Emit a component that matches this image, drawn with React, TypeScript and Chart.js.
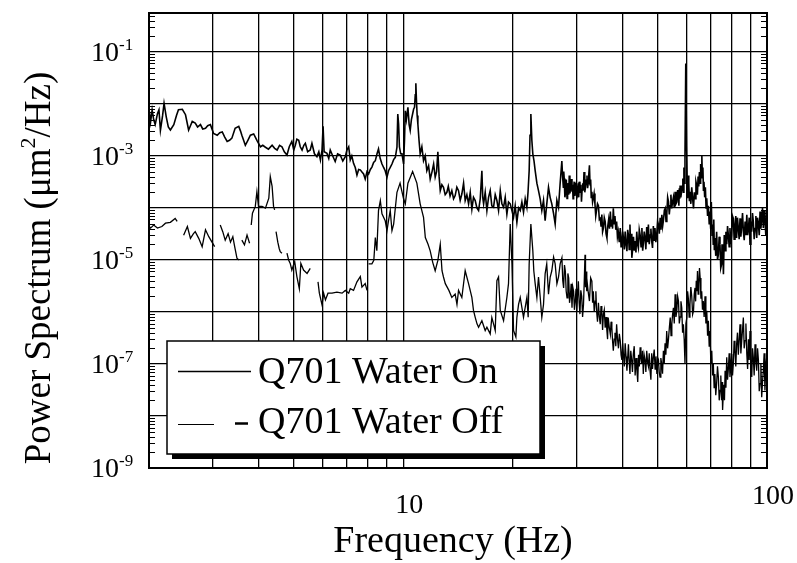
import React, { useEffect, useRef } from "react";
import { Chart, registerables } from "chart.js";

Chart.register(...registerables);

// ---- axis definitions ----
const xGridValues = [2, 3, 4, 5, 6, 7, 8, 9, 10, 20, 30, 40, 50, 60, 70, 80, 90, 100];
const yGridValues = [1e-9, 1e-8, 1e-7, 1e-6, 1e-5, 1e-4, 1e-3, 1e-2, 1e-1];
const yLabelExponents = [-1, -3, -5, -7, -9];
const xLabelValues = [10, 100];
const minorMultipliers = [2, 3, 4, 5, 6, 7, 8, 9];
const xTitle = "Frequency (Hz)";
const yTitleParts = ["Power Spectrum (\u03bcm", "2", "/Hz)"];
const legendLabels = ["Q701 Water On", "Q701 Water Off"];

// ---- Q701 Water On ----
const freqOn = [
  2.00, 2.02, 2.04, 2.06, 2.08, 2.11, 2.13, 2.15, 2.18, 2.20,
  2.23, 2.26, 2.29, 2.34, 2.38, 2.41, 2.47, 2.52, 2.57, 2.60,
  2.63, 2.68, 2.72, 2.77, 2.81, 2.86, 2.90, 2.95, 3.01, 3.08,
  3.13, 3.18, 3.23, 3.28, 3.33, 3.38, 3.45, 3.53, 3.57, 3.60,
  3.64, 3.68, 3.74, 3.80, 3.88, 3.96, 4.05, 4.11, 4.18, 4.26,
  4.36, 4.43, 4.50, 4.57, 4.64, 4.71, 4.79, 4.86, 4.94, 5.00,
  5.05, 5.10, 5.16, 5.21, 5.27, 5.33, 5.38, 5.46, 5.55, 5.61,
  5.70, 5.79, 5.86, 5.92, 5.98, 6.02, 6.06, 6.17, 6.24, 6.30,
  6.40, 6.50, 6.60, 6.71, 6.82, 6.93, 7.00, 7.08, 7.15, 7.22,
  7.30, 7.38, 7.46, 7.54, 7.62, 7.70, 7.78, 7.86, 7.95, 8.03,
  8.12, 8.20, 8.29, 8.38, 8.47, 8.55, 8.64, 8.74, 8.83, 8.92,
  9.02, 9.11, 9.21, 9.31, 9.41, 9.51, 9.61, 9.66, 9.71, 9.76,
  9.84, 9.92, 10.02, 10.08, 10.13, 10.20, 10.30, 10.38, 10.45, 10.53,
  10.61, 10.68, 10.74, 10.79, 10.83, 10.87, 10.92, 10.97, 11.05, 11.13,
  11.25, 11.37, 11.49, 11.61, 11.74, 11.86, 12.00, 12.12, 12.24, 12.35,
  12.45, 12.55, 12.64, 12.77, 12.90, 13.04, 13.18, 13.30, 13.45, 13.60,
  13.75, 13.89, 14.04, 14.19, 14.34, 14.49, 14.65, 14.80, 14.96, 15.12,
  15.28, 15.44, 15.60, 15.77, 15.94, 16.11, 16.28, 16.45, 16.54, 16.63,
  16.80, 16.98, 17.16, 17.34, 17.52, 17.71, 17.90, 18.09, 18.28, 18.48,
  18.67, 18.87, 19.07, 19.27, 19.47, 19.68, 19.89, 20.10, 20.31, 20.53,
  20.75, 20.97, 21.19, 21.41, 21.64, 21.87, 22.03, 22.19, 22.31, 22.43,
  22.57, 22.71, 22.88, 23.05, 23.30, 23.54, 23.79, 24.04, 24.30, 24.55,
  24.81, 25.08, 25.34, 25.61, 25.88, 26.16, 26.44, 26.72, 27.00, 27.29,
  27.42, 27.55, 27.62, 27.70, 27.82, 27.95, 28.07, 28.20, 28.30, 28.40,
  28.50, 28.60, 28.72, 28.85, 28.97, 29.10, 29.20, 29.30, 29.40, 29.50,
  29.62, 29.75, 29.87, 30.00, 30.12, 30.25, 30.37, 30.50, 30.60, 30.70,
  30.80, 30.90, 31.02, 31.15, 31.27, 31.40, 31.55, 31.70, 31.85, 32.00,
  32.12, 32.25, 32.37, 32.50, 32.62, 32.75, 32.87, 33.00, 33.15, 33.30,
  33.47, 33.65, 33.82, 34.00, 34.20, 34.40, 34.60, 34.80, 34.97, 35.15,
  35.32, 35.50, 35.70, 35.90, 36.10, 36.30, 36.50, 36.70, 36.90, 37.10,
  37.27, 37.45, 37.62, 37.80, 38.00, 38.20, 38.40, 38.60, 38.80, 39.00,
  39.25, 39.50, 39.70, 39.90, 40.10, 40.30, 40.52, 40.75, 40.97, 41.20,
  41.40, 41.60, 41.80, 42.00, 42.12, 42.25, 42.37, 42.50, 42.72, 42.95,
  43.17, 43.40, 43.62, 43.85, 44.07, 44.30, 44.55, 44.80, 45.05, 45.30,
  45.52, 45.75, 45.97, 46.20, 46.45, 46.70, 46.95, 47.20, 47.45, 47.70,
  47.95, 48.20, 48.45, 48.70, 48.95, 49.20, 49.47, 49.75, 50.02, 50.30,
  50.57, 50.85, 51.12, 51.40, 51.67, 51.95, 52.22, 52.50, 52.77, 53.05,
  53.32, 53.60, 53.87, 54.15, 54.42, 54.70, 55.00, 55.30, 55.60, 55.90,
  56.20, 56.50, 56.80, 57.10, 57.25, 57.40, 57.55, 57.70, 57.95, 58.20,
  58.45, 58.70, 58.90, 59.10, 59.30, 59.50, 59.80, 60.10, 60.30, 60.50,
  60.72, 60.95, 61.17, 61.40, 61.75, 62.10, 62.45, 62.80, 63.12, 63.45,
  63.77, 64.10, 64.37, 64.65, 64.92, 65.20, 65.45, 65.70, 65.95, 66.20,
  66.42, 66.65, 66.87, 67.10, 67.40, 67.70, 68.00, 68.30, 68.65, 69.00,
  69.35, 69.70, 70.00, 70.30, 70.60, 70.90, 71.15, 71.40, 71.65, 71.90,
  72.30, 72.70, 73.10, 73.50, 73.87, 74.25, 74.62, 75.00, 75.22, 75.45,
  75.67, 75.90, 76.30, 76.70, 77.10, 77.50, 77.90, 78.30, 78.70, 79.10,
  79.52, 79.95, 80.37, 80.80, 81.22, 81.65, 82.07, 82.50, 82.95, 83.40,
  83.85, 84.30, 84.75, 85.20, 85.65, 86.10, 86.57, 87.05, 87.52, 88.00,
  88.45, 88.90, 89.35, 89.80, 90.27, 90.75, 91.22, 91.70, 92.20, 92.70,
  93.20, 93.70, 94.20, 94.70, 95.20, 95.70, 96.20, 96.70, 97.20, 97.70,
  98.20, 98.70, 99.25, 99.80,
];
const psdOn = [
  8.0e-3, 4.5e-3, 7.7e-3, 5.0e-3, 4.0e-3, 6.5e-3, 7.7e-3, 3.1e-3, 6.0e-3, 1.03e-2,
  5.7e-3, 3.6e-3, 3.15e-3, 4.0e-3, 6.0e-3, 7.7e-3, 7.9e-3, 6.2e-3, 3.15e-3, 3.8e-3,
  4.6e-3, 4.3e-3, 3.6e-3, 4.0e-3, 3.3e-3, 3.4e-3, 3.8e-3, 4.0e-3, 2.7e-3, 2.5e-3,
  2.8e-3, 2.9e-3, 2.3e-3, 1.9e-3, 2.0e-3, 2.2e-3, 3.4e-3, 3.7e-3, 3.0e-3, 2.5e-3,
  2.0e-3, 1.6e-3, 2.0e-3, 2.5e-3, 2.65e-3, 2.0e-3, 1.5e-3, 1.6e-3, 1.47e-3, 1.35e-3,
  1.6e-3, 1.4e-3, 1.3e-3, 1.6e-3, 1.5e-3, 1.2e-3, 1.04e-3, 1.5e-3, 1.9e-3, 1.3e-3,
  1.6e-3, 2.1e-3, 2.0e-3, 1.5e-3, 1.3e-3, 1.6e-3, 1.75e-3, 1.2e-3, 1.3e-3, 1.75e-3,
  1.1e-3, 9.7e-4, 1.2e-3, 8.4e-4, 1.3e-3, 3.7e-3, 1.2e-3, 1.12e-3, 9.0e-4, 1.3e-3,
  1.0e-3, 7.8e-4, 1.1e-3, 1.04e-3, 8.0e-4, 9.7e-4, 1.3e-3, 1.5e-3, 8.4e-4, 1.0e-3,
  7.2e-4, 6.0e-4, 4.3e-4, 5.5e-4, 5.4e-4, 4.9e-4, 4.5e-4, 3.6e-4, 5.0e-4, 4.5e-4,
  5.5e-4, 6.1e-4, 7.5e-4, 8.1e-4, 1.1e-3, 1.36e-3, 9.0e-4, 7.0e-4, 6.0e-4, 5.2e-4,
  3.9e-4, 5.2e-4, 6.0e-4, 7.0e-4, 8.5e-4, 9.4e-4, 1.47e-3, 6.4e-3, 4.1e-3, 1.5e-3,
  1.1e-3, 1.1e-3, 7.0e-4, 2.0e-3, 7.4e-3, 5.0e-3, 8.6e-3, 4.0e-3, 3.1e-3, 5.0e-3,
  6.4e-3, 8.0e-3, 8.6e-3, 1.5e-2, 2.5e-2, 1.2e-2, 6.0e-3, 4.1e-3, 2.0e-3, 1.1e-3,
  1.5e-3, 8.1e-4, 1.0e-3, 5.2e-4, 6.5e-4, 3.6e-4, 5.0e-4, 7.0e-4, 3.9e-4, 5.0e-4,
  1.2e-3, 4.0e-4, 2.15e-4, 2.8e-4, 2.5e-4, 1.8e-4, 2.0e-4, 2.6e-4, 1.7e-4, 2.15e-4,
  1.5e-4, 1.73e-4, 2.5e-4, 2.15e-4, 1.4e-4, 1.85e-4, 3.0e-4, 1.39e-4, 1.8e-4, 1.2e-4,
  2.0e-4, 9.5e-5, 1.6e-4, 1.39e-4, 1.0e-4, 8.9e-5, 1.5e-4, 5.2e-4, 1.6e-4, 1.2e-4,
  2.0e-4, 8.9e-5, 1.6e-4, 2.15e-4, 1.1e-4, 1.03e-4, 1.8e-4, 1.39e-4, 9.0e-5, 2.15e-4,
  1.2e-4, 1.03e-4, 1.6e-4, 7.6e-5, 1.3e-4, 1.2e-4, 9.0e-5, 6.6e-5, 1.1e-4, 5.3e-5,
  1.0e-4, 8.9e-5, 1.3e-4, 8.3e-5, 1.5e-4, 1.03e-4, 2.0e-4, 5.2e-4, 2.5e-3, 6.4e-3,
  2.0e-3, 1.1e-3, 8.0e-4, 5.2e-4, 3.0e-4, 2.15e-4, 1.5e-4, 8.9e-5, 1.4e-4, 5.7e-5,
  1.2e-4, 2.5e-4, 1.6e-4, 1.2e-4, 8.0e-5, 4.9e-5, 1.4e-4, 1.03e-4, 3.0e-4, 8.0e-4,
  4.0e-4, 2.5e-4, 5.0e-4, 3.7e-4, 1.6e-4, 2.0e-4, 3.5e-4, 1.53e-4, 2.4e-4, 3.0e-4,
  1.8e-4, 4.2e-4, 1.9e-4, 2.5e-4, 3.6e-4, 2.05e-4, 2.8e-4, 1.5e-4, 2.2e-4, 3.2e-4,
  1.7e-4, 2.2e-4, 3.0e-4, 1.53e-4, 2.0e-4, 2.4e-4, 1.6e-4, 3.2e-4, 2.6e-4, 2.0e-4,
  2.8e-4, 1.32e-4, 2.2e-4, 3.0e-4, 2.2e-4, 4.9e-4, 2.0e-4, 2.5e-4, 3.4e-4, 4.2e-4,
  2.4e-4, 3.0e-4, 4.5e-4, 6.6e-4, 2.8e-4, 3.5e-4, 1.6e-4, 2.05e-4, 1.3e-4, 1.53e-4,
  1.9e-4, 1.2e-4, 7.0e-5, 9.1e-5, 1.2e-4, 1.1e-4, 6.0e-5, 6.3e-5, 4.5e-5, 7.5e-5,
  3.5e-5, 4.1e-5, 6.5e-5, 5.5e-5, 3.2e-5, 2.65e-5, 4.5e-5, 6.0e-5, 4.0e-5, 8.5e-5,
  4.5e-5, 6.0e-5, 4.0e-5, 9.8e-5, 5.0e-5, 7.0e-5, 3.8e-5, 5.5e-5, 2.8e-5, 3.5e-5,
  2.2e-5, 4.1e-5, 1.8e-5, 2.2e-5, 3.5e-5, 2.65e-5, 1.6e-5, 3.5e-5, 2.0e-5, 1.47e-5,
  3.8e-5, 3.0e-5, 1.6e-5, 4.8e-5, 2.5e-5, 2.0e-5, 3.2e-5, 1.1e-5, 1.6e-5, 2.8e-5,
  1.5e-5, 2.3e-5, 1.4e-5, 3.5e-5, 2.0e-5, 1.7e-5, 3.8e-5, 3.0e-5, 1.8e-5, 4.1e-5,
  1.5e-5, 2.2e-5, 3.5e-5, 2.65e-5, 1.6e-5, 4.3e-5, 2.2e-5, 4.8e-5, 2.0e-5, 3.0e-5,
  4.0e-5, 2.3e-5, 1.7e-5, 4.5e-5, 2.4e-5, 4.1e-5, 2.2e-5, 3.0e-5, 5.5e-5, 4.8e-5,
  3.2e-5, 6.5e-5, 3.8e-5, 7.4e-5, 4.5e-5, 6.0e-5, 9.0e-5, 9.8e-5, 5.5e-5, 8.0e-5,
  1.6e-4, 1.32e-4, 7.5e-5, 1.1e-4, 1.8e-4, 9.8e-5, 1.3e-4, 1.6e-4, 1.0e-4, 2.05e-4,
  1.2e-4, 1.3e-4, 2.2e-4, 1.53e-4, 1.1e-4, 2.4e-4, 1.5e-4, 2.7e-4, 1.6e-4, 2.0e-4,
  2.6e-4, 3.7e-4, 2.0e-4, 6.0e-4, 3.0e-4, 1.03e-3, 6.0e-2, 1.5e-3, 4.0e-4, 1.53e-4,
  4.2e-4, 3.0e-4, 1.4e-4, 2.05e-4, 1.2e-4, 2.5e-4, 1.5e-4, 9.8e-5, 2.0e-4, 1.5e-4,
  3.2e-4, 2.7e-4, 1.8e-4, 4.0e-4, 2.6e-4, 4.9e-4, 3.0e-4, 7.0e-4, 3.8e-4, 1.03e-3,
  4.0e-4, 6.0e-4, 2.2e-4, 3.2e-4, 1.6e-4, 2.5e-4, 1.0e-4, 1.53e-4, 7.0e-5, 1.1e-4,
  5.0e-5, 8.5e-5, 4.0e-5, 1.3e-4, 3.0e-5, 4.8e-5, 2.0e-5, 6.0e-5, 1.6e-5, 2.65e-5,
  1.2e-5, 3.5e-5, 1.0e-5, 1.27e-5, 2.8e-5, 2.0e-5, 7.0e-6, 8.2e-6, 2.0e-5, 1.0e-5,
  1.8e-5, 5.3e-6, 3.0e-5, 1.5e-5, 3.5e-5, 2.0e-5, 4.5e-5, 3.0e-5, 1.8e-5, 4.1e-5,
  2.0e-5, 3.0e-5, 7.0e-5, 6.3e-5, 2.5e-5, 4.5e-5, 7.0e-5, 2.65e-5, 6.5e-5, 4.0e-5,
  2.5e-5, 6.3e-5, 2.8e-5, 4.5e-5, 8.0e-5, 3.55e-5, 2.4e-5, 5.5e-5, 3.0e-5, 7.4e-5,
  3.0e-5, 4.0e-5, 6.5e-5, 2.0e-5, 5.5e-5, 3.5e-5, 8.0e-5, 5.5e-5, 2.5e-5, 4.0e-5,
  7.0e-5, 2.65e-5, 6.5e-5, 5.0e-5, 3.0e-5, 8.5e-5, 4.0e-5, 6.0e-5, 1.0e-4, 4.1e-5,
  9.0e-5, 6.0e-5, 3.0e-5, 7.4e-5,
];

// ---- Q701 Water Off (null = break in the dashed trace) ----
const freqOff = [
  2.00, 2.02, 2.06, 2.11, 2.17, 2.22, 2.29, 2.36, 2.39, 2.44,
  2.49, 2.55, 2.60, 2.65, 2.68, 2.74, 2.80, 2.86, 2.92, 2.98,
  3.03, 3.08, 3.14, 3.19, 3.24, 3.30, 3.35, 3.40, 3.44, 3.49,
  3.53, 3.56, 3.60, 3.66, 3.72, 3.78, 3.80, 3.82, 3.85, 3.92,
  3.96, 4.00, 4.09, 4.18, 4.27, 4.31, 4.36, 4.40, 4.43, 4.45,
  4.47, 4.52, 4.56, 4.59, 4.64, 4.72, 4.79, 4.84, 4.89, 4.94,
  5.03, 5.10, 5.18, 5.23, 5.32, 5.44, 5.55, 5.70, 5.83, 5.88,
  5.98, 6.04, 6.11, 6.21, 6.37, 6.57, 6.79, 6.93, 7.08, 7.15,
  7.30, 7.46, 7.62, 7.70, 7.86, 7.95, 8.00, 8.03, 8.20, 8.30,
  8.38, 8.46, 8.55, 8.65, 8.74, 8.92, 9.02, 9.11, 9.21, 9.31,
  9.41, 9.61, 9.80, 10.02, 10.13, 10.30, 10.61, 10.90, 11.13, 11.37,
  11.50, 11.70, 11.86, 12.05, 12.24, 12.45, 12.64, 12.78, 12.90, 13.05,
  13.35, 13.60, 13.89, 14.05, 14.19, 14.49, 14.80, 15.12, 15.44, 15.60,
  15.77, 15.95, 16.11, 16.45, 16.80, 16.98, 17.34, 17.52, 17.71, 17.90,
  18.09, 18.28, 18.48, 18.87, 19.27, 19.47, 19.68, 19.90, 20.10, 20.40,
  20.53, 20.75, 20.97, 21.41, 21.87, 22.05, 22.19, 22.43, 22.71, 22.85,
  23.05, 23.30, 23.54, 23.80, 24.04, 24.30, 24.55, 24.80, 25.08, 25.35,
  25.61, 25.90, 26.16, 26.45, 26.72, 27.00, 27.30, 27.45, 27.60, 27.75,
  27.90, 28.05, 28.20, 28.35, 28.50, 28.65, 28.80, 28.95, 29.10, 29.25,
  29.40, 29.55, 29.70, 29.85, 30.00, 30.15, 30.30, 30.45, 30.60, 30.77,
  30.95, 31.12, 31.30, 31.45, 31.60, 31.70, 31.80, 31.90, 32.00, 32.25,
  32.50, 32.75, 33.00, 33.15, 33.30, 33.50, 33.70, 33.85, 34.00, 34.20,
  34.40, 34.60, 34.80, 34.97, 35.15, 35.32, 35.50, 35.70, 35.90, 36.10,
  36.30, 36.45, 36.60, 36.85, 37.10, 37.27, 37.45, 37.62, 37.80, 38.00,
  38.20, 38.40, 38.60, 38.82, 39.05, 39.27, 39.50, 39.70, 39.90, 40.10,
  40.30, 40.52, 40.75, 40.97, 41.20, 41.40, 41.60, 41.80, 42.00, 42.22,
  42.45, 42.67, 42.90, 43.15, 43.40, 43.65, 43.90, 44.12, 44.35, 44.57,
  44.80, 45.02, 45.25, 45.47, 45.70, 45.95, 46.20, 46.45, 46.70, 46.95,
  47.20, 47.45, 47.70, 47.95, 48.20, 48.45, 48.70, 48.97, 49.25, 49.52,
  49.80, 50.05, 50.30, 50.55, 50.80, 51.07, 51.35, 51.62, 51.90, 52.17,
  52.45, 52.72, 53.00, 53.30, 53.60, 53.90, 54.20, 54.47, 54.75, 55.02,
  55.30, 55.60, 55.90, 56.20, 56.50, 56.80, 57.10, 57.40, 57.70, 58.00,
  58.30, 58.60, 58.90, 59.20, 59.50, 59.85, 60.20, 60.50, 60.80, 61.10,
  61.40, 61.75, 62.10, 62.45, 62.80, 63.10, 63.40, 63.65, 63.90, 64.15,
  64.40, 64.67, 64.95, 65.22, 65.50, 65.82, 66.15, 66.47, 66.80, 67.17,
  67.55, 67.92, 68.30, 68.65, 69.00, 69.35, 69.70, 70.10, 70.50, 70.85,
  71.20, 71.55, 71.90, 72.30, 72.70, 73.10, 73.50, 73.90, 74.30, 74.65,
  75.00, 75.25, 75.50, 75.80, 76.10, 76.40, 76.70, 77.10, 77.50, 77.90,
  78.30, 78.70, 79.10, 79.55, 80.00, 80.40, 80.80, 81.22, 81.65, 82.07,
  82.50, 82.95, 83.40, 83.85, 84.30, 84.75, 85.20, 85.65, 86.10, 86.55,
  87.00, 87.50, 88.00, 88.45, 88.90, 89.35, 89.80, 90.30, 90.80, 91.25,
  91.70, 92.20, 92.70, 93.20, 93.70, 94.20, 94.70, 95.20, 95.70, 96.20,
  96.70, 97.20, 97.70, 98.20, 98.70, 99.25, 99.80,
];
const psdOff = [
  4.5e-5, 4.1e-5, 4.7e-5, 4.1e-5, 4.4e-5, 5.1e-5, 5.3e-5, 6.3e-5, 5.5e-5, null,
  3.0e-5, 4.4e-5, 2.6e-5, 3.2e-5, 3.5e-5, 2.6e-5, 1.8e-5, 3.8e-5, 2.8e-5, 2.2e-5,
  1.8e-5, null, 4.7e-5, 3.5e-5, 2.4e-5, 3.2e-5, 2.2e-5, 2.8e-5, 1.8e-5, 1.08e-5,
  1.0e-5, null, 2.4e-5, 1.95e-5, 3.0e-5, 2.1e-5, null, 4.7e-5, 7.9e-5, 1.07e-4,
  2.05e-4, 1.07e-4, 1.07e-4, 9.9e-5, 1.54e-4, 4.0e-4, 2.6e-4, 1.07e-4, 9.2e-5, null,
  3.5e-5, 2.2e-5, 1.66e-5, 1.44e-5, 1.35e-5, null, 1.35e-5, 1.0e-5, 8.6e-6, 6.4e-6,
  9.3e-6, 4.8e-6, 2.8e-6, 8.6e-6, 6.4e-6, 5.5e-6, 6.9e-6, null, 3.8e-6, 2.3e-6,
  1.37e-6, 2.3e-6, 1.7e-6, 2.3e-6, 2.3e-6, 2.4e-6, 2.3e-6, 2.6e-6, 2.3e-6, 2.8e-6,
  2.6e-6, 3.8e-6, 4.8e-6, 3.0e-6, 3.5e-6, 2.6e-6, null, 8.4e-6, 8.4e-6, 9.8e-6,
  2.7e-5, 1.5e-5, 8.9e-5, 1.38e-4, 7.7e-5, 5.7e-5, 3.65e-5, 5.7e-5, 8.9e-5, 3.65e-5,
  4.9e-5, 2.0e-4, 3.0e-4, 1.5e-4, 1.2e-4, 3.0e-4, 5.0e-4, 3.0e-4, 1.2e-4, 6.6e-5,
  2.7e-5, 2.0e-5, 1.5e-5, 9.0e-6, 6.2e-6, 9.8e-6, 2.0e-5, 6.2e-6, 4.7e-6, 3.5e-6,
  2.6e-6, 1.9e-6, 2.2e-6, 1.4e-6, 2.6e-6, 1.9e-6, 6.2e-6, 3.5e-6, 1.9e-6, 1.07e-6,
  7.9e-7, 5.9e-7, 5.1e-7, 6.8e-7, 4.4e-7, 5.1e-7, 3.8e-7, 7.8e-7, 5.9e-7, 4.4e-7,
  4.0e-6, 4.7e-6, 1.07e-6, 6.8e-7, 1.9e-6, 3.5e-6, 4.9e-5, 8.4e-6, 4.4e-7, 3.3e-7,
  7.9e-7, 1.4e-6, 1.9e-6, 7.9e-7, 1.9e-6, 7.9e-7, 8.4e-6, 4.9e-5, 1.5e-5, 6.2e-6,
  3.5e-6, 1.9e-6, 4.7e-6, 1.9e-6, 7.9e-7, 1.4e-6, 5.4e-6, 8.4e-6, 2.2e-6, 4.7e-6,
  6.2e-6, 1.13e-5, 8.4e-6, 3.5e-6, 4.7e-6, 8.4e-6, 1.1e-5, 4.0e-6, 2.9e-6, 8.0e-6,
  6.1e-6, 2.5e-6, 1.87e-6, 5.5e-6, 4.5e-6, 1.5e-6, 2.0e-6, 3.5e-6, 1.2e-6, 3.0e-6,
  2.5e-6, 1.1e-6, 1.6e-6, 2.8e-6, 1.05e-6, 2.2e-6, 3.9e-6, 1.5e-6, 9.1e-7, 2.6e-6,
  2.0e-6, 8.0e-7, 1.4e-6, 4.0e-6, 1.26e-5, 3.0e-6, 6.0e-6, 2.5e-6, 4.5e-6, 2.4e-6,
  1.62e-6, 4.5e-6, 3.9e-6, 1.5e-6, 2.5e-6, 1.0e-6, 1.62e-6, 2.5e-6, 1.05e-6, 6.5e-7,
  1.5e-6, 8.0e-7, 5.8e-7, 1.3e-6, 1.0e-6, 4.5e-7, 9.1e-7, 1.1e-6, 5.0e-7, 8.0e-7,
  4.3e-7, 3.0e-7, 7.8e-7, 5.0e-7, 3.7e-7, 6.5e-7, 5.0e-7, 2.8e-7, 1.8e-7, 3.0e-7,
  4.0e-7, 2.2e-7, 5.8e-7, 3.0e-7, 2.0e-7, 3.8e-7, 2.8e-7, 1.5e-7, 1.2e-7, 2.5e-7,
  1.55e-7, 9.0e-8, 2.5e-7, 1.4e-7, 7.4e-8, 1.3e-7, 2.4e-7, 1.1e-7, 6.4e-8, 1.8e-7,
  1.2e-7, 7.0e-8, 1.55e-7, 2.2e-7, 6.0e-8, 1.3e-7, 7.4e-8, 4.5e-8, 1.5e-7, 9.0e-8,
  2.1e-7, 1.3e-7, 1.0e-7, 1.8e-7, 6.4e-8, 1.5e-7, 1.2e-7, 7.0e-8, 1.8e-7, 1.1e-7,
  9.0e-8, 1.6e-7, 7.4e-8, 5.0e-8, 1.6e-7, 8.0e-8, 1.34e-7, 1.9e-7, 8.0e-8, 1.4e-7,
  6.4e-8, 1.1e-7, 1.2e-7, 7.0e-8, 5.6e-8, 1.3e-7, 1.0e-7, 6.5e-8, 1.8e-7, 1.0e-7,
  2.5e-7, 1.5e-7, 4.3e-7, 2.0e-7, 3.0e-7, 5.0e-7, 7.8e-7, 3.5e-7, 6.0e-7, 9.0e-7,
  1.2e-6, 6.0e-7, 2.2e-6, 8.0e-7, 1.05e-6, 2.0e-6, 1.62e-6, 6.0e-7, 8.0e-7, 1.6e-6,
  1.2e-6, 4.0e-7, 5.8e-7, 3.0e-7, 1.0e-7, 6.0e-7, 7.8e-7, 2.5e-6, 1.8e-6, 8.0e-7,
  1.4e-6, 3.0e-6, 2.0e-6, 9.0e-7, 1.05e-6, 2.2e-6, 2.9e-6, 1.6e-6, 4.0e-6, 2.5e-6,
  6.1e-6, 2.2e-6, 3.5e-6, 7.0e-6, 4.5e-6, 1.8e-6, 2.5e-6, 1.1e-6, 1.62e-6, 8.0e-7,
  2.0e-6, 6.0e-7, 1.05e-6, 3.5e-7, 6.8e-7, 2.2e-7, 4.3e-7, 1.0e-7, 1.8e-7, 6.0e-8,
  1.0e-7, 3.5e-8, 6.4e-8, 2.5e-8, 4.2e-8, 9.0e-8, 5.6e-8, 2.0e-8, 3.1e-8, 6.0e-8,
  2.0e-8, 4.5e-8, 1.3e-8, 2.5e-8, 4.0e-8, 2.0e-8, 7.4e-8, 3.5e-8, 1.34e-7, 5.0e-8,
  8.0e-8, 1.6e-7, 5.6e-8, 9.0e-8, 1.55e-7, 6.0e-8, 1.0e-7, 2.8e-7, 1.8e-7, 9.0e-8,
  2.4e-7, 4.0e-7, 1.5e-7, 3.0e-7, 5.8e-7, 1.6e-7, 2.8e-7, 4.5e-7, 7.8e-7, 2.0e-7,
  2.8e-7, 6.0e-7, 1.55e-7, 8.0e-8, 3.0e-7, 1.2e-7, 4.3e-7, 1.0e-7, 5.6e-8, 2.0e-7,
  1.34e-7, 6.0e-8, 2.4e-7, 1.1e-7, 7.4e-8, 2.0e-7, 1.2e-7, 3.0e-8, 4.2e-8, 1.0e-7,
  2.3e-8, 4.5e-8, 7.4e-8, 1.6e-7, 3.1e-8, 9.0e-8, 1.34e-7,
];

const SERIF = '"Liberation Serif", "Times New Roman", serif';

const overlayPlugin = {
  id: "overlay",
  afterDraw(chart: any) {
    const { ctx, chartArea: a, scales } = chart;
    const xs = scales.x;
    const ys = scales.y;
    ctx.save();
    ctx.strokeStyle = "#000";
    ctx.fillStyle = "#000";

    // minor ticks on left/right inner edges of the y axis
    ctx.lineWidth = 1;
    ctx.beginPath();
    for (let i = 0; i < yGridValues.length; i++) {
      for (const m of minorMultipliers) {
        const v = yGridValues[i] * m;
        if (v > ys.max) continue;
        const y = Math.round(ys.getPixelForValue(v)) + 0.5;
        ctx.moveTo(a.left, y);
        ctx.lineTo(a.left + 6, y);
        ctx.moveTo(a.right - 6, y);
        ctx.lineTo(a.right, y);
      }
    }
    ctx.stroke();

    // frame
    ctx.lineWidth = 2;
    ctx.strokeRect(a.left, a.top, a.right - a.left, a.bottom - a.top);

    // legend box with drop shadow
    const lx = 167, ly = 341, lw = 373, lh = 113;
    ctx.fillStyle = "#000";
    ctx.fillRect(lx + 5, ly + 5, lw, lh);
    ctx.fillStyle = "#fff";
    ctx.fillRect(lx, ly, lw, lh);
    ctx.lineWidth = 1.5;
    ctx.strokeRect(lx, ly, lw, lh);

    ctx.lineWidth = 1.6;
    ctx.beginPath();
    ctx.moveTo(178, 371.5);
    ctx.lineTo(251, 371.5);
    ctx.stroke();
    ctx.lineWidth = 1;
    ctx.beginPath();
    ctx.moveTo(178, 424.5);
    ctx.lineTo(214, 424.5);
    ctx.stroke();
    ctx.lineWidth = 2.5;
    ctx.beginPath();
    ctx.moveTo(235, 423.5);
    ctx.lineTo(248, 423.5);
    ctx.stroke();

    ctx.fillStyle = "#000";
    ctx.font = `38px ${SERIF}`;
    ctx.textAlign = "left";
    ctx.textBaseline = "alphabetic";
    ctx.fillText(legendLabels[0], 258, 383);
    ctx.fillText(legendLabels[1], 258, 433);

    // y tick labels 10^n
    for (const e of yLabelExponents) {
      const py = ys.getPixelForValue(Math.pow(10, e));
      ctx.font = `28px ${SERIF}`;
      ctx.textAlign = "left";
      ctx.fillText("10", 91, py + 9);
      const w = ctx.measureText("10").width;
      ctx.font = `17px ${SERIF}`;
      ctx.fillText(String(e), 91 + w, py - 2);
    }

    // x tick labels
    ctx.font = `28px ${SERIF}`;
    ctx.textAlign = "center";
    const xLabelY = [513, 504];
    xLabelValues.forEach((v, i) => {
      const px = xs.getPixelForValue(v);
      ctx.fillText(String(v), px + 6, xLabelY[i]);
    });

    // x title
    ctx.font = `38px ${SERIF}`;
    ctx.textAlign = "center";
    ctx.fillText(xTitle, 453, 552);

    // y title (rotated, with superscript)
    ctx.save();
    ctx.translate(38, 268);
    ctx.rotate(-Math.PI / 2);
    const mainFont = `37px ${SERIF}`;
    const supFont = `22px ${SERIF}`;
    ctx.font = mainFont;
    const w1 = ctx.measureText(yTitleParts[0]).width;
    const w3 = ctx.measureText(yTitleParts[2]).width;
    ctx.font = supFont;
    const w2 = ctx.measureText(yTitleParts[1]).width;
    const total = w1 + w2 + w3;
    let x0 = -total / 2;
    ctx.textAlign = "left";
    ctx.font = mainFont;
    ctx.fillText(yTitleParts[0], x0, 12);
    x0 += w1;
    ctx.font = supFont;
    ctx.fillText(yTitleParts[1], x0, -3);
    x0 += w2;
    ctx.font = mainFont;
    ctx.fillText(yTitleParts[2], x0, 12);
    ctx.restore();

    ctx.restore();
  },
};

export default function App() {
  const canvasRef = useRef<HTMLCanvasElement | null>(null);

  useEffect(() => {
    const canvas = canvasRef.current;
    if (!canvas) return;
    const chart = new Chart(canvas, {
      type: "line",
      data: {
        datasets: [
          {
            label: legendLabels[0],
            data: freqOn.map((f, i) => ({ x: f, y: psdOn[i] })),
            borderColor: "#000",
            borderWidth: 1.6,
            pointRadius: 0,
            fill: false,
            tension: 0,
          },
          {
            label: legendLabels[1],
            data: freqOff.map((f, i) => ({ x: f, y: psdOff[i] })),
            borderColor: "#000",
            borderWidth: 1.3,
            pointRadius: 0,
            fill: false,
            tension: 0,
            spanGaps: false,
          },
        ],
      },
      options: {
        animation: false,
        responsive: false,
        devicePixelRatio: 1,
        layout: { padding: { left: 0, top: 13, right: 30, bottom: 0 } },
        plugins: { legend: { display: false }, tooltip: { enabled: false } },
        scales: {
          x: {
            type: "logarithmic",
            min: 2,
            max: 100,
            grid: { color: "#000", lineWidth: 1.3, drawTicks: false },
            border: { display: false },
            ticks: { display: false },
            afterBuildTicks: (s: any) => {
              s.ticks = xGridValues.map((v) => ({ value: v }));
            },
            afterFit: (s: any) => {
              s.height = 95;
            },
          },
          y: {
            type: "logarithmic",
            min: 1e-9,
            max: 0.56,
            grid: { color: "#000", lineWidth: 1.3, drawTicks: false },
            border: { display: false },
            ticks: { display: false },
            afterBuildTicks: (s: any) => {
              s.ticks = yGridValues.map((v) => ({ value: v }));
            },
            afterFit: (s: any) => {
              s.width = 149;
            },
          },
        },
      } as any,
      plugins: [overlayPlugin],
    });
    return () => chart.destroy();
  }, []);

  return (
    <div style={{ position: "fixed", left: 0, top: 0, width: 797, height: 563, background: "#fff" }}>
      <canvas ref={canvasRef} width={797} height={563} style={{ width: 797, height: 563, display: "block" }} />
    </div>
  );
}
